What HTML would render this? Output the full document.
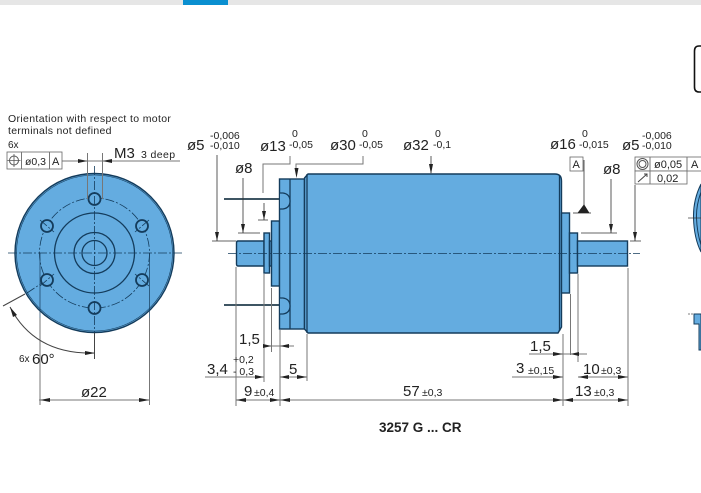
<!DOCTYPE html>
<html><head><meta charset="utf-8"><style>
html,body{margin:0;padding:0;background:#fff;width:701px;height:493px;overflow:hidden}
svg{display:block}
text{font-family:"Liberation Sans",sans-serif;fill:#222}
.b{fill:#64ace0;stroke:#143c5c;stroke-width:1.4}
.k{stroke:#143c5c;stroke-width:1.3;fill:none}
.c{stroke:#143c5c;stroke-width:.8;fill:none;stroke-dasharray:9 2 2 2}
.d{stroke:#777;stroke-width:1;fill:none}
.a{fill:#222}
.f{fill:#fff;stroke:#666;stroke-width:.8}
</style></head><body>
<svg width="701" height="493" viewBox="0 0 701 493" xmlns="http://www.w3.org/2000/svg">
<rect width="701" height="5" fill="#e6e6e6"/><rect x="183" width="45" height="5" fill="#0a8fd0"/>
<path d="M701 46H699Q694.500 46 694.500 51V87Q694.500 92 699 92H701" fill="none" stroke="#111" stroke-width="1.600"/>

<!-- front view -->
<circle cx="94.500" cy="253" r="79.500" class="b"/>
<circle cx="94.500" cy="253" r="78" fill="none" stroke="#143c5c" stroke-width=".6"/>
<circle cx="94.500" cy="253" r="55" class="c"/>
<circle cx="94.500" cy="253" r="40" class="k"/>
<circle cx="94.500" cy="253" r="20.500" class="k"/>
<circle cx="94.500" cy="253" r="12.500" class="k"/>
<g fill="#64ace0" stroke="#143c5c" stroke-width="1.800">
<circle cx="94.500" cy="199" r="6"/><circle cx="94.500" cy="308" r="6"/>
<circle cx="47" cy="226" r="6"/><circle cx="142" cy="226" r="6"/>
<circle cx="47" cy="280" r="6"/><circle cx="142" cy="280" r="6"/>
</g>
<path class="c" d="M8 253H182M94.500 166V358M40 220L54 232M149 220L135 232M40 286L54 274M149 286L135 274"/>
<path d="M87.500 153V199M102.500 153V199" class="d"/>
<path d="M62 161H180" class="d"/>
<path class="a" d="M87.500 161L78 159V163ZM102.500 161L112 159V163Z"/>
<path d="M40 253V405M149.500 253V405" stroke="#143c5c" stroke-width=".7" fill="none"/>
<path d="M40 318V405M149.500 318V405M39 400H150" class="d"/>
<path class="a" d="M40 400L50 398V402ZM149.500 400L139 398V402Z"/>
<path d="M3 306L25 294M94.500 333V359M10 307Q35 355 95 353" stroke="#444" fill="none"/>
<path class="c" d="M27 293L42 283"/>
<path class="a" d="M95 353L85 351V355ZM10 307L13 317L17 315Z"/>
<rect x="7" y="152" width="55" height="17" class="f"/><path d="M21.500 152V169M49.500 152V169" class="d"/>
<circle cx="14" cy="160.500" r="4.500" fill="none" stroke="#555"/><path d="M7.500 160.500H20.500M14 154V167" stroke="#555" stroke-width=".8"/>
<text x="8" y="122" font-size="10.500" letter-spacing=".35">Orientation with respect to motor</text>
<text x="8" y="134" font-size="10.500" letter-spacing=".3">terminals not defined</text>
<text x="8" y="148" font-size="10">6x</text>
<text x="25" y="165" font-size="10.500">ø0,3</text><text x="52" y="165" font-size="11">A</text>
<text x="114" y="158" font-size="15">M3</text><text x="141" y="158" font-size="10.500" letter-spacing=".4">3 deep</text>
<text x="19" y="362" font-size="10">6x</text><text x="32" y="364" font-size="15">60°</text>
<text x="81" y="397" font-size="15">ø22</text>

<!-- side view -->
<path d="M224 199H280M224 305H280" stroke="#3e5563" stroke-width="2"/>
<path class="b" d="M238 241H264V266H238Q236.500 266 236.500 264V243Q236.500 241 238 241Z"/>
<rect x="264" y="233" width="5.500" height="40" class="b"/>
<rect x="269.500" y="241" width="2" height="25" class="b"/>
<rect x="271.500" y="221" width="8" height="65" class="b"/>
<rect x="279.500" y="179" width="25" height="150" class="b"/>
<path class="k" d="M290 179V329"/>
<path d="M280 193H283Q290 194 290 201Q290 208 283 209H280ZM280 298H283Q290 299 290 306Q290 313 283 314H280Z" fill="#64ace0"/>
<path class="k" d="M280 193H283Q290 194 290 201Q290 208 283 209H280M280 298H283Q290 299 290 306Q290 313 283 314H280"/>
<path class="b" d="M304.500 178L308 174H555Q561.500 174 561.500 181V327L558 333H308L304.500 329Z"/>
<path class="k" d="M307 174V333M559.500 176V331"/>
<rect x="561.500" y="213" width="8" height="80" class="b"/>
<rect x="569.500" y="233" width="8" height="40" class="b"/>
<rect x="577.500" y="241" width="50" height="25" class="b"/>
<path class="c" d="M228 253.500H640"/>

<!-- dims top -->
<path stroke="#333" stroke-width=".8" fill="none" d="M217 155V241M212 241H236M243 178V233M238 233H260M264 203V220M258 220H268M431 156V173M584 160V207M611 179V233M581 233H617M635 185V241M630 241H641"/>
<path class="d" d="M263 193V164H290V156M296 171V164H363V156"/>
<path class="a" d="M217 241L215 232H219ZM243 233L241 224H245ZM264 220L262 211H266ZM296.500 178L294.500 168H298.500ZM431 174L429 164H433ZM611 233L609 224H613ZM635 241L633 232H637Z"/>
<path d="M573 213H591M584 205L589 213H578Z" fill="#222" stroke="#222" stroke-width=".8"/>
<text x="187" y="150" font-size="15">ø5</text>
<text x="210" y="139" font-size="10.500">-0,006</text><text x="210" y="149" font-size="10.500">-0,010</text>
<text x="260" y="151" font-size="15">ø13</text><text x="292" y="137" font-size="10.500">0</text><text x="289" y="148" font-size="10.500">-0,05</text>
<text x="330" y="150" font-size="15">ø30</text><text x="362" y="137" font-size="10.500">0</text><text x="359" y="148" font-size="10.500">-0,05</text>
<text x="403" y="150" font-size="15">ø32</text><text x="435" y="137" font-size="10.500">0</text><text x="433" y="148" font-size="10.500">-0,1</text>
<text x="550" y="149" font-size="15">ø16</text><text x="582" y="137" font-size="10.500">0</text><text x="579" y="148" font-size="10.500">-0,015</text>
<text x="622" y="150" font-size="15">ø5</text><text x="642" y="139" font-size="10.500">-0,006</text><text x="642" y="149" font-size="10.500">-0,010</text>
<text x="235" y="173" font-size="15">ø8</text><text x="603" y="174" font-size="15">ø8</text>
<rect x="570" y="157" width="13" height="14" class="f"/><text x="572.500" y="168" font-size="11">A</text>
<rect x="635" y="157" width="67" height="14" class="f"/><rect x="635" y="171" width="52" height="13" class="f"/>
<path class="d" d="M650 157V184M687 157V171"/>
<circle cx="642.500" cy="164" r="5.500" fill="none" stroke="#555"/><circle cx="642.500" cy="164" r="3.500" fill="none" stroke="#555"/>
<path d="M638 182L647 174M644 174H647V177" stroke="#444" fill="none"/>
<text x="654" y="168" font-size="11">ø0,05</text><text x="691" y="168" font-size="11">A</text>
<text x="657" y="182" font-size="11">0,02</text>

<!-- right cropped -->
<path d="M701 184Q693 200 693.500 218Q694 238 701 252Z" fill="#64ace0" stroke="#143c5c" stroke-width="1"/>
<path d="M701 192Q696 206 696.500 218Q697 232 701 245" fill="none" stroke="#143c5c" stroke-width="1"/>
<path d="M688 218H701" stroke="#333" stroke-width=".7"/>
<path d="M701 314H694V324H699V350H701Z" fill="#64ace0" stroke="#143c5c" stroke-width="1"/>
<path d="M688 314H694" stroke="#555" stroke-width=".7" stroke-dasharray="2 1"/>

<!-- dims bottom -->
<path class="d" d="M236 267V406M264 274V382M271.500 288V352M280 330V406M307 334V381M563 334V406M570.500 294V355M578 274V362M628 268V406"/>
<path class="d" d="M263 346H294M205 377H264M280 377H307M236 400H628M529 354H587M512 377H563M578 377H628"/>
<path class="a" d="M271.500 346L263 344V348ZM280 346L289 344V348ZM264 377L255 375V379ZM280 377L289 375V379ZM307 377L297 375V379ZM236 400L246 398V402ZM280 400L270 398V402ZM280 400L290 398V402ZM563 400L553 398V402ZM563 400L573 398V402ZM628 400L618 398V402ZM563 354L553 352V356ZM570.500 354L579 352V356ZM563 377L553 375V379ZM578 377L588 375V379ZM628 377L618 375V379Z"/>
<text x="239" y="344" font-size="15">1,5</text>
<text x="233" y="363" font-size="10.500">+0,2</text><text x="207" y="374" font-size="15">3,4</text><text x="233" y="375" font-size="10.500">- 0,3</text>
<text x="289" y="374" font-size="15">5</text>
<text x="244" y="396" font-size="15">9</text><text x="254" y="396" font-size="10.500">±0,4</text>
<text x="530" y="351" font-size="15">1,5</text>
<text x="516" y="373" font-size="15">3</text><text x="528" y="374" font-size="10.500">±0,15</text>
<text x="583" y="374" font-size="15">10</text><text x="601" y="374" font-size="10.500">±0,3</text>
<text x="575" y="396" font-size="15">13</text><text x="594" y="396" font-size="10.500">±0,3</text>
<text x="403" y="396" font-size="15">57</text><text x="422" y="396" font-size="10.500">±0,3</text>
<text x="379" y="432" font-size="13.500" font-weight="bold">3257 G ... CR</text>
</svg>
</body></html>
